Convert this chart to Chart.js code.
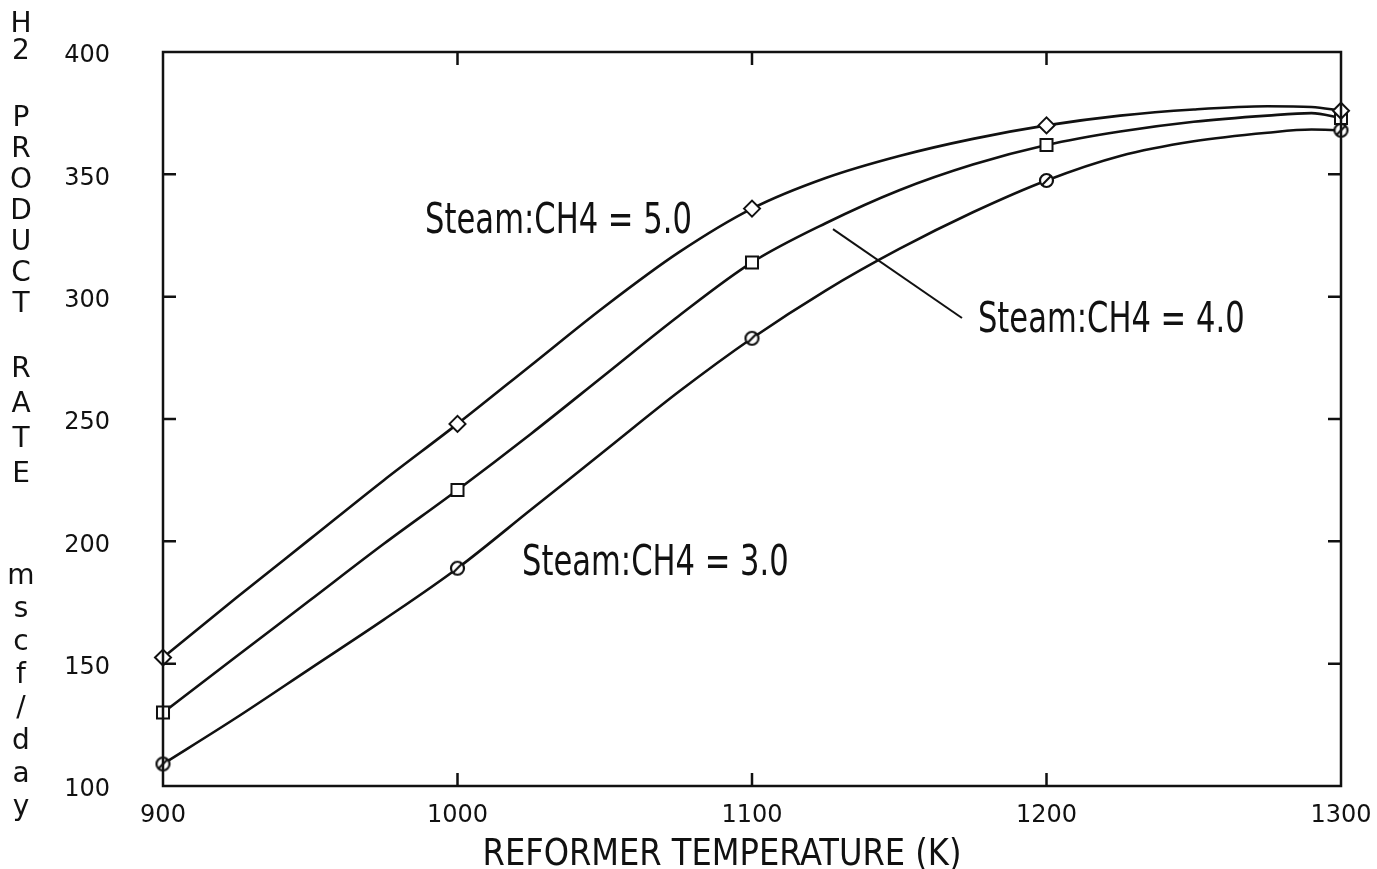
<!DOCTYPE html>
<html>
<head>
<meta charset="utf-8">
<script src="https://cdn.jsdelivr.net/npm/chart.js@4.4.1/dist/chart.umd.min.js"></script>
<style>
  html, body { margin: 0; padding: 0; background: #fff; }
  #wrap { width: 1377px; height: 869px; position: relative; }
</style>
</head>
<body>
<div id="wrap"><canvas id="chart"></canvas></div>
<script>
// reformer temperature (K) along each curve
const temps = [900, 925, 950, 975, 1000, 1025, 1050, 1075, 1100, 1125, 1150, 1175, 1200, 1225, 1250, 1275, 1290, 1300];
// H2 product rate (mscf/day) for each steam:CH4 ratio
const rate50 = [152.5, 177, 201, 225, 248, 272, 296, 318, 336, 348.5, 357.5, 364.5, 370, 374, 376.5, 377.8, 377.5, 376];
const rate40 = [130, 153, 176, 199, 221, 244, 268, 292, 314, 330, 343.5, 354, 362, 367.5, 371.5, 374, 375, 373];
const rate30 = [109, 128, 148, 168, 189, 213, 237, 261, 283, 302.5, 319.5, 334.5, 347.5, 357.5, 363.5, 367, 368.3, 368];
const seriesLabels = ['Steam:CH4 = 5.0', 'Steam:CH4 = 4.0', 'Steam:CH4 = 3.0'];
// temperatures that carry a symbol
const markedTemps = [900, 1000, 1100, 1200, 1300];
const xTicks = [900, 1000, 1100, 1200, 1300];
const yTicks = [100, 150, 200, 250, 300, 350, 400];
const xTitle = 'REFORMER TEMPERATURE (K)';
const yTitleWords = ['H2', 'PRODUCT', 'RATE', 'mscf/day'];

const INK = '#111';
const LABEL_FONT = '"Liberation Sans Narrow", "DejaVu Sans Condensed", "Liberation Sans", sans-serif';

function toPoints(vals) {
  return temps.map((t, i) => ({ x: t, y: vals[i] }));
}

// hollow circle with a slash through it
function slashedCircle(r) {
  const c = document.createElement('canvas');
  const s = Math.ceil(r * 2 + 4);
  c.width = c.height = s;
  const g = c.getContext('2d');
  g.lineWidth = 2.2;
  g.strokeStyle = INK;
  g.fillStyle = '#fff';
  g.beginPath();
  g.arc(s / 2, s / 2, r, 0, Math.PI * 2);
  g.fill();
  g.stroke();
  g.beginPath();
  g.moveTo(s / 2 - r * 0.65, s / 2 + r * 0.65);
  g.lineTo(s / 2 + r * 0.65, s / 2 - r * 0.65);
  g.stroke();
  return c;
}

function markerRadius(r) {
  return ctx => markedTemps.includes(temps[ctx.dataIndex]) ? r : 0;
}

function curve(label, vals, style, r) {
  return {
    label: label,
    data: toPoints(vals),
    borderColor: INK,
    borderWidth: 2.6,
    cubicInterpolationMode: 'monotone',
    pointStyle: style,
    pointRadius: markerRadius(r),
    pointBorderColor: INK,
    pointBorderWidth: 2,
    pointBackgroundColor: '#fff',
    clip: false
  };
}

// text squeezed horizontally
function narrowText(ctx, text, px, py, sx) {
  ctx.save();
  ctx.translate(px, py);
  ctx.scale(sx, 1);
  ctx.fillText(text, 0, 0);
  ctx.restore();
}

// box with inward ticks on all four sides, stacked y title, x title
const framePlugin = {
  id: 'frame',
  afterDatasetsDraw(chart) {
    const { ctx, chartArea: a, scales: { x, y } } = chart;
    const len = 13;
    ctx.save();
    ctx.strokeStyle = INK;
    ctx.lineWidth = 2.5;
    ctx.strokeRect(a.left, a.top, a.right - a.left, a.bottom - a.top);
    ctx.beginPath();
    xTicks.slice(1, -1).forEach(t => {
      const px = x.getPixelForValue(t);
      ctx.moveTo(px, a.bottom); ctx.lineTo(px, a.bottom - len);
      ctx.moveTo(px, a.top); ctx.lineTo(px, a.top + len);
    });
    yTicks.slice(1, -1).forEach(v => {
      const py = y.getPixelForValue(v);
      ctx.moveTo(a.left, py); ctx.lineTo(a.left + len, py);
      ctx.moveTo(a.right, py); ctx.lineTo(a.right - len, py);
    });
    ctx.stroke();
    ctx.restore();
  },
  afterDraw(chart) {
    const { ctx, scales: { x, y } } = chart;
    ctx.save();
    ctx.fillStyle = INK;

    // series labels
    ctx.font = '42px ' + LABEL_FONT;
    ctx.textAlign = 'left';
    ctx.textBaseline = 'alphabetic';
    narrowText(ctx, seriesLabels[0], x.getPixelForValue(989), y.getPixelForValue(326), 0.81);
    narrowText(ctx, seriesLabels[1], x.getPixelForValue(1176.7), y.getPixelForValue(285.5), 0.81);
    narrowText(ctx, seriesLabels[2], x.getPixelForValue(1021.9), y.getPixelForValue(186.2), 0.81);

    // leader to the 4.0 curve
    ctx.strokeStyle = INK;
    ctx.lineWidth = 2;
    ctx.beginPath();
    ctx.moveTo(x.getPixelForValue(1127.5), y.getPixelForValue(327.6));
    ctx.lineTo(x.getPixelForValue(1171.3), y.getPixelForValue(291.3));
    ctx.stroke();

    // x axis title
    ctx.font = '38px ' + LABEL_FONT;
    ctx.textAlign = 'center';
    narrowText(ctx, xTitle, 722, 865, 0.94);

    // y axis title, one letter per line
    ctx.font = '28px "DejaVu Sans", sans-serif';
    ctx.textBaseline = 'middle';
    const starts = [25, 119, 370, 577];
    const steps = [27, 31, 35, 33];
    yTitleWords.forEach((w, i) => {
      [...w].forEach((ch, j) => ctx.fillText(ch, 21, starts[i] + j * steps[i]));
    });
    ctx.restore();
  }
};

new Chart(document.getElementById('chart'), {
  type: 'line',
  data: {
    datasets: [
      curve(seriesLabels[0], rate50, 'rectRot', 8),
      curve(seriesLabels[1], rate40, 'rect', 8.5),
      curve(seriesLabels[2], rate30, slashedCircle(6.5), 6.5)
    ]
  },
  options: {
    responsive: true,
    maintainAspectRatio: false,
    animation: false,
    layout: { padding: { left: 0, right: 36, top: 52, bottom: 0 } },
    plugins: {
      legend: { display: false },
      tooltip: { enabled: false }
    },
    scales: {
      x: {
        type: 'linear',
        min: 900,
        max: 1300,
        afterBuildTicks: s => { s.ticks = xTicks.map(v => ({ value: v })); },
        afterFit: s => { s.height = 83; s.paddingLeft = 0; s.paddingRight = 0; },
        grid: { display: false, drawTicks: false },
        border: { display: false },
        ticks: {
          color: INK, padding: 15, font: { family: 'DejaVu Sans', size: 24 },
          callback: v => String(v)
        }
      },
      y: {
        min: 100,
        max: 400,
        afterBuildTicks: s => { s.ticks = yTicks.map(v => ({ value: v })); },
        afterFit: s => { s.width = 163; s.paddingTop = 0; s.paddingBottom = 0; },
        grid: { display: false, drawTicks: false },
        border: { display: false },
        ticks: {
          color: INK, padding: 53, labelOffset: 4, font: { family: 'DejaVu Sans', size: 24 },
          callback: v => String(v)
        }
      }
    }
  },
  plugins: [framePlugin]
});
</script>
</body>
</html>
